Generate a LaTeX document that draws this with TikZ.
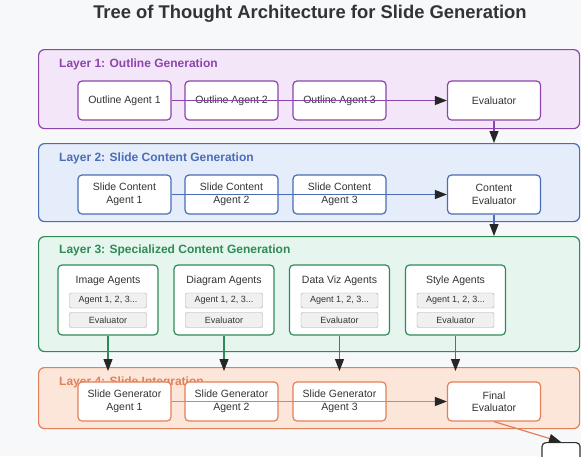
\documentclass[tikz,border=0pt]{standalone}
\usepackage{fontspec}
\setmainfont{Liberation Sans}
\usetikzlibrary{arrows.meta,positioning}
\usepackage{xcolor}
\definecolor{pagebg}{HTML}{F6F8FA}
\definecolor{textgray}{HTML}{333333}
\definecolor{lonefill}{HTML}{F3E6F8}
\definecolor{loneline}{HTML}{8E44AD}
\definecolor{ltwofill}{HTML}{E5EDFA}
\definecolor{ltwoline}{HTML}{4A6DB5}
\definecolor{lthreefill}{HTML}{E6F6EE}
\definecolor{lthreeline}{HTML}{2E8B57}
\definecolor{lfourfill}{HTML}{FCE6DA}
\definecolor{lfourline}{HTML}{E2805A}

\begin{document}
\begin{tikzpicture}[
      x=1pt, y=-1pt,
      every node/.style={font=\fontsize{10.5}{12.5}\selectfont, text=textgray, align=center},
      layer/.style={draw, rounded corners=6pt, line width=1.2pt, minimum width=541pt, anchor=north west},
      layertitle/.style={anchor=west, font=\bfseries\fontsize{12}{14}\selectfont, inner sep=0pt},
      agent/.style={draw, fill=white, rounded corners=4pt, line width=1.2pt, minimum width=93pt, minimum height=39pt, inner sep=1pt},
      group/.style={draw=lthreeline, fill=white, rounded corners=4pt, line width=1.2pt, minimum width=100pt, minimum height=70pt},
      sub/.style={draw=gray!70, fill=gray!12, rounded corners=2pt, minimum width=77pt, minimum height=15pt, inner sep=1pt, font=\fontsize{9}{10}\selectfont},
      flow/.style={line width=1.2pt, -{Triangle[length=12pt, width=9pt, color=black!85]}}
    ]
    \useasboundingbox (0,0) rectangle (581,456);
    \fill[pagebg] (0,0) rectangle (581,456);
    \node[font=\bfseries\fontsize{18.4}{20}\selectfont] (title) at (310,14) {Tree of Thought Architecture for Slide Generation};

    % Layer 1
    \node[layer, draw=loneline, fill=lonefill, minimum height=79pt] (lone) at (38,49) {};
    \node[layertitle, text=loneline] (lonetitle) at (59,64) {Layer 1: Outline Generation};
    \node[agent, draw=loneline] (oa1) at (124.5,100.5) {Outline Agent 1};
    \node[agent, draw=loneline] (oa2) at (231.5,100.5) {Outline Agent 2};
    \node[agent, draw=loneline] (oa3) at (339.5,100.5) {Outline Agent 3};
    \node[agent, draw=loneline] (oev) at (494,100.5) {Evaluator};

    % Layer 2
    \node[layer, draw=ltwoline, fill=ltwofill, minimum height=78pt] (ltwo) at (38,143) {};
    \node[layertitle, text=ltwoline] (ltwotitle) at (59,158) {Layer 2: Slide Content Generation};
    \node[agent, draw=ltwoline] (sc1) at (124.5,194.5) {Slide Content\\Agent 1};
    \node[agent, draw=ltwoline] (sc2) at (231.5,194.5) {Slide Content\\Agent 2};
    \node[agent, draw=ltwoline] (sc3) at (339.5,194.5) {Slide Content\\Agent 3};
    \node[agent, draw=ltwoline] (sce) at (494,194.5) {Content\\Evaluator};

    % Layer 3
    \node[layer, draw=lthreeline, fill=lthreefill, minimum height=115pt] (lthree) at (38,236) {};
    \node[layertitle, text=lthreeline] (lthreetitle) at (59,250) {Layer 3: Specialized Content Generation};
    \node[group] (img) at (108,300) {};
    \node (imgt) at (108,281) {Image Agents};
    \node[sub] (imga) at (108,300.5) {Agent 1, 2, 3...};
    \node[sub] (imge) at (108,320) {Evaluator};
    \node[group] (dia) at (224,300) {};
    \node (diat) at (224,281) {Diagram Agents};
    \node[sub] (diaa) at (224,300.5) {Agent 1, 2, 3...};
    \node[sub] (diae) at (224,320) {Evaluator};
    \node[group] (viz) at (339.5,300) {};
    \node (vizt) at (339.5,281) {Data Viz Agents};
    \node[sub] (viza) at (339.5,300.5) {Agent 1, 2, 3...};
    \node[sub] (vize) at (339.5,320) {Evaluator};
    \node[group] (sty) at (455.5,300) {};
    \node (styt) at (455.5,281) {Style Agents};
    \node[sub] (stya) at (455.5,300.5) {Agent 1, 2, 3...};
    \node[sub] (stye) at (455.5,320) {Evaluator};

    % Layer 4
    \node[layer, draw=lfourline, fill=lfourfill, minimum height=61pt] (lfour) at (38,367) {};
    \node[layertitle, text=lfourline] (lfourtitle) at (59,382) {Layer 4: Slide Integration};
    \node[agent, draw=lfourline] (sg1) at (124.5,401.5) {Slide Generator\\Agent 1};
    \node[agent, draw=lfourline] (sg2) at (231.5,401.5) {Slide Generator\\Agent 2};
    \node[agent, draw=lfourline] (sg3) at (339.5,401.5) {Slide Generator\\Agent 3};
    \node[agent, draw=lfourline] (fev) at (494,401.5) {Final\\Evaluator};
    \node[draw=textgray, fill=white, rounded corners=4pt, line width=1.2pt, minimum width=38pt, minimum height=36pt, anchor=north] (out) at (561,442) {};

    % flows inside and between layers
    \draw[flow, loneline] (oa1) -- (oev);
    \draw[flow, loneline] (oev.south) -- (oev.south |- ltwo.north);
    \draw[flow, ltwoline] (sc1) -- (sce);
    \draw[flow, ltwoline] (sce.south) -- (sce.south |- lthree.north);
    \draw[flow, lthreeline] (img.south) -- ([yshift=-4pt]img.south |- lfour.north);
    \draw[flow, lthreeline] (dia.south) -- ([yshift=-4pt]dia.south |- lfour.north);
    \draw[flow, lthreeline] (viz.south) -- ([yshift=-4pt]viz.south |- lfour.north);
    \draw[flow, lthreeline] (sty.south) -- ([yshift=-4pt]sty.south |- lfour.north);
    \draw[flow, lfourline] (sg1) -- (fev);
    \draw[flow, lfourline] (fev.south) -- (out.north);
  \end{tikzpicture}
\end{document}
